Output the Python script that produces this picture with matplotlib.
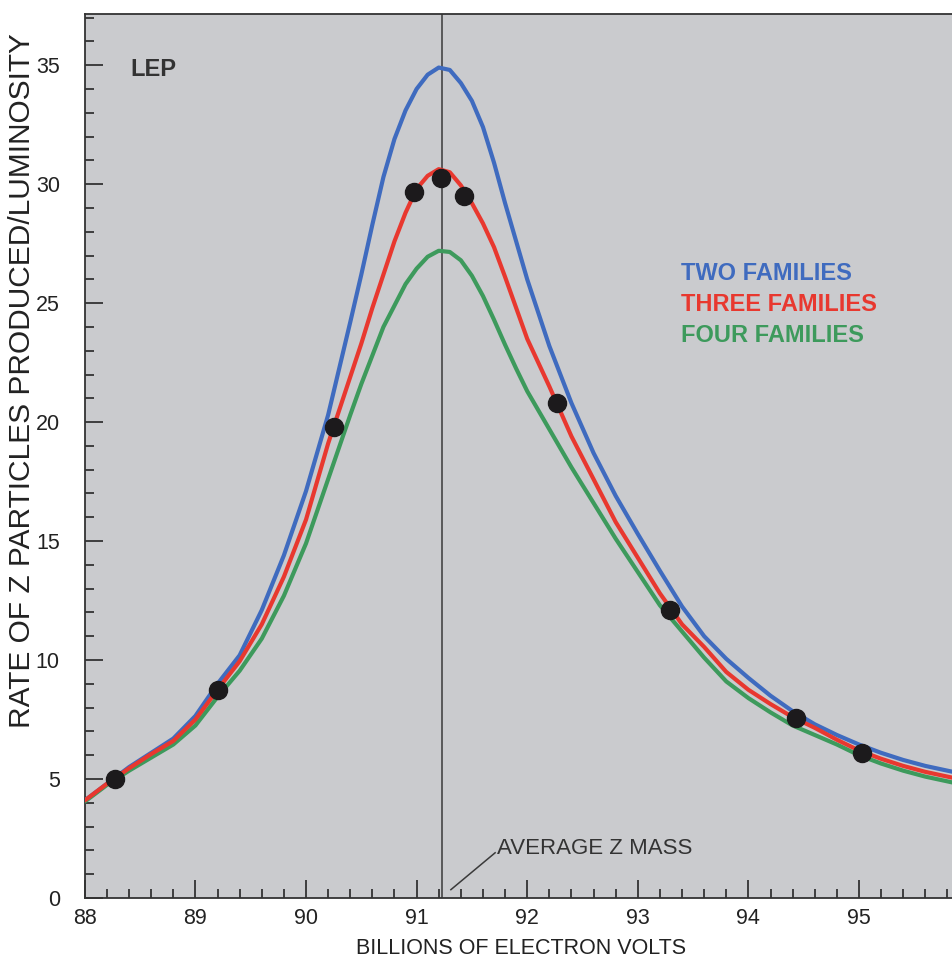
import numpy as np
import matplotlib
matplotlib.use("Agg")
from matplotlib import pyplot as plt
from matplotlib.ticker import MultipleLocator

plt.rcParams['font.family'] = ['Liberation Sans', 'DejaVu Sans']

# energy grid the curves were read at (GeV)
energy = [88.0, 88.2, 88.4, 88.6, 88.8, 89.0, 89.2, 89.4, 89.6, 89.8,
          90.0, 90.2, 90.4, 90.5, 90.6, 90.7, 90.8, 90.9, 91.0, 91.1,
          91.2, 91.3, 91.4, 91.5, 91.6, 91.7, 91.8, 91.9, 92.0, 92.2,
          92.4, 92.6, 92.8, 93.0, 93.2, 93.4, 93.6, 93.8, 94.0, 94.2,
          94.4, 94.6, 94.8, 95.0, 95.2, 95.4, 95.6, 95.85]

two_families = [4.1, 4.8, 5.5, 6.1, 6.7, 7.65, 9.0, 10.2, 12.1, 14.4,
                17.1, 20.3, 24.2, 26.2, 28.3, 30.3, 31.9, 33.1, 34.0, 34.6,
                34.9, 34.8, 34.25, 33.5, 32.4, 30.9, 29.2, 27.6, 26.0, 23.2,
                20.8, 18.7, 16.9, 15.3, 13.75, 12.25, 11.0, 10.05, 9.25, 8.5,
                7.85, 7.3, 6.85, 6.45, 6.1, 5.8, 5.55, 5.3]

three_families = [4.1, 4.8, 5.45, 6.05, 6.6, 7.5, 8.75, 9.95, 11.5, 13.5,
                  15.9, 19.1, 21.9, 23.3, 24.8, 26.2, 27.6, 28.8, 29.8, 30.35,
                  30.63, 30.5, 29.95, 29.2, 28.35, 27.35, 26.1, 24.8, 23.5, 21.5,
                  19.4, 17.6, 15.8, 14.3, 12.8, 11.5, 10.55, 9.5, 8.75, 8.15,
                  7.6, 7.15, 6.65, 6.2, 5.85, 5.55, 5.3, 5.05]

four_families = [4.05, 4.75, 5.35, 5.9, 6.45, 7.25, 8.45, 9.55, 10.9, 12.7,
                 14.9, 17.6, 20.3, 21.6, 22.8, 24.0, 24.9, 25.8, 26.45, 26.95,
                 27.2, 27.15, 26.8, 26.15, 25.3, 24.3, 23.25, 22.25, 21.3, 19.7,
                 18.1, 16.6, 15.1, 13.7, 12.3, 11.2, 10.1, 9.1, 8.4, 7.8,
                 7.25, 6.85, 6.45, 6.0, 5.65, 5.35, 5.1, 4.85]

# measured points
data_x = [88.27, 89.2, 90.25, 90.98, 91.22, 91.43, 92.27, 93.29, 94.43, 95.03]
data_y = [5.0, 8.75, 19.8, 29.65, 30.25, 29.5, 20.8, 12.1, 7.55, 6.1]

z_mass = 91.23

fig = plt.figure(figsize=(9.53, 9.6), dpi=100)
ax = fig.add_axes([0.089, 0.0646, 0.911, 0.9208])
ax.set_facecolor('#cacbce')

line_kw = dict(lw=3.0, solid_capstyle='round', solid_joinstyle='round')
ax.plot(energy, two_families, color='#3f6bbf', zorder=3, **line_kw)
ax.plot(energy, four_families, color='#3d9a5c', zorder=3, **line_kw)
ax.plot(energy, three_families, color='#e8382f', zorder=4, **line_kw)
ax.plot(data_x, data_y, 'o', color='#1c1a1c', ms=13, zorder=5)

ax.axvline(z_mass, color='#3a3a3a', lw=1.1, zorder=2)
ax.plot([91.31, 91.71], [0.35, 1.9], color='#3a3a3a', lw=1.1, zorder=2)
ax.text(91.73, 2.1, 'AVERAGE Z MASS', fontsize=16, color='#333333', va='center')

ax.text(88.41, 34.8, 'LEP', fontsize=17, fontweight='bold', color='#333333', va='center')

ax.text(93.39, 26.26, 'TWO FAMILIES', fontsize=17, fontweight='bold', color='#3f6bbf', va='center')
ax.text(93.39, 24.96, 'THREE FAMILIES', fontsize=17, fontweight='bold', color='#e8382f', va='center')
ax.text(93.39, 23.66, 'FOUR FAMILIES', fontsize=17, fontweight='bold', color='#3d9a5c', va='center')

ax.set_xlim(88, 95.85)
ax.set_ylim(0, 37.15)
ax.xaxis.set_major_locator(MultipleLocator(1))
ax.xaxis.set_minor_locator(MultipleLocator(0.2))
ax.yaxis.set_major_locator(MultipleLocator(5))
ax.yaxis.set_minor_locator(MultipleLocator(1))
ax.tick_params(which='both', direction='in', color='#333333', width=1.3, labelsize=15.5,
               labelcolor='#222222')
ax.tick_params(which='major', length=13, pad=7)
ax.tick_params(which='minor', length=6.5)
ax.tick_params(axis='y', pad=18)

for side in ['left', 'bottom', 'top']:
    ax.spines[side].set_color('#333333')
    ax.spines[side].set_linewidth(1.3)
ax.spines['right'].set_visible(False)

ax.set_xlabel('BILLIONS OF ELECTRON VOLTS', fontsize=15.5, color='#222222')
ax.set_ylabel('RATE OF Z PARTICLES PRODUCED/LUMINOSITY', fontsize=21.5, color='#222222')
ax.xaxis.set_label_coords(0.502, -0.045)
ax.yaxis.set_label_coords(-0.056, 0.585)

fig.savefig('out.png', dpi=100)
